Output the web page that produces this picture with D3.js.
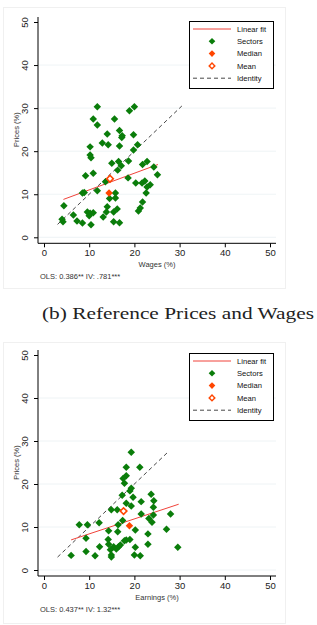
<!DOCTYPE html>
<html><head><meta charset="utf-8">
<script src="https://cdn.jsdelivr.net/npm/d3@7/dist/d3.min.js"></script>
<style>body{margin:0;background:#fff}svg{display:block}</style>
</head><body>
<svg id="c" width="317" height="625"></svg>
<script>
const axisTicks = [0, 10, 20, 30, 40, 50];
const gridTicks = [0, 10, 20, 30, 40];
const legendLabels = ["Linear fit", "Sectors", "Median", "Mean", "Identity"];
const caption = "(b) Reference Prices and Wages";

// Panel 1: wages vs prices
const wagesX = [11.8,10.9,11.8,15.6,18.9,20.0,14.0,16.7,17.3,19.8,10.2,12.9,14.2,16.7,20.7,19.8,10.2,10.4,15.0,16.5,17.1,18.7,22.8,21.8,24.3,25.1,16.3,10.9,9.2,13.6,18.6,20.3,21.7,22.3,22.8,23.5,22.6,11.8,8.5,8.9,15.8,15.8,14.5,21.8,21.3,20.9,16.2,14.0,13.8,13.1,15.4,15.4,16.7,9.6,10.2,10.9,10.0,10.4,8.5,7.3,6.5,4.4,4.2,4.0,17.2];
const wagesY = [30.3,27.5,26.1,27.5,29.4,30.3,24.0,24.8,23.6,23.8,21.0,21.9,21.5,21.2,21.5,20.3,19.1,18.5,17.2,17.6,16.6,17.7,17.6,16.9,16.3,14.5,15.6,14.9,14.3,12.9,13.8,12.6,12.6,13.1,11.7,12.2,10.3,10.8,10.3,10.4,10.3,9.1,9.0,8.2,6.8,6.1,6.6,7.1,5.9,4.7,5.9,3.6,3.4,5.9,5.6,5.7,5.0,2.9,3.3,3.8,5.2,7.3,3.6,4.2,23.2];
const wagesMedian = [14.4, 10.3];
const wagesMean = [14.6, 13.6];
const wagesFitX = [4.3, 25.2];
const wagesFitY = [8.8, 16.9];
const wagesIdentity = [3.0, 30.5];
const wagesNote = "OLS: 0.386** IV: .781***";

// Panel 2: earnings vs prices
const earnX = [18.2,17.5,17.8,19.3,19.0,17.3,19.7,23.7,24.3,21.5,18.2,19.3,24.2,14.9,16.2,21.5,23.2,23.9,12.2,9.6,7.8,17.4,16.4,14.3,16.3,20.2,14.2,19.0,18.2,17.8,23.0,14.3,23.0,9.3,12.3,15.4,16.5,16.0,16.9,14.7,14.9,14.9,20.2,20.0,21.3,9.3,11.3,6.0,24.2,28.0,27.1,29.6,19.3,18.2,21.2];
const earnY = [21.9,21.3,20.2,19.0,18.4,17.4,16.9,17.6,16.1,15.9,15.5,14.9,14.6,14.0,14.0,13.0,12.0,11.1,11.0,10.5,10.5,11.5,10.5,9.1,8.9,9.3,7.1,7.1,7.0,6.8,8.4,6.0,6.0,7.4,5.4,5.4,5.4,4.9,5.8,4.7,3.5,3.0,5.3,3.5,3.3,4.3,3.3,3.4,12.8,13.0,9.5,5.3,27.4,23.9,23.9];
const earnMedian = [18.9, 10.3];
const earnMean = [17.6, 13.7];
const earnFitX = [6.0, 29.8];
const earnFitY = [7.0, 15.3];
const earnIdentity = [3.0, 27.3];
const earnNote = "OLS: 0.437** IV: 1.32***";

const GREEN = "#0a7d0a", ORANGE = "#ff4500", RED = "#f0433a";
const svg = d3.select("#c");
const FONT = "'Liberation Sans', Arial, sans-serif";

function panel(cfg) {
  const x = d3.scaleLinear().domain([0, 50]).range([44, 270]);
  const y = d3.scaleLinear().domain([0, 50]).range([cfg.y0, cfg.y50]);
  const g = svg.append("g");
  g.append("rect").attr("x", 3.5).attr("y", cfg.boxTop + 0.5).attr("width", 282).attr("height", cfg.boxH)
    .attr("fill", "none").attr("stroke", "#f0f0f0");
  g.selectAll(".grid").data(gridTicks).join("line")
    .attr("x1", 39).attr("x2", 276).attr("y1", d => y(d)).attr("y2", d => y(d))
    .attr("stroke", "#eaf0f2").attr("stroke-width", 0.8);
  const axisY = cfg.y0 + 6;
  const xa = g.append("g").attr("transform", `translate(0,${axisY})`)
    .call(d3.axisBottom(x).tickValues(axisTicks).tickSize(4).tickPadding(2).tickSizeOuter(0));
  xa.select(".domain").attr("d", `M38,0H276`).attr("stroke", "#000");
  xa.selectAll("text").attr("font-size", 9.5).attr("font-family", FONT).attr("fill", "#222");
  const ya = g.append("g").attr("transform", `translate(38,0)`)
    .call(d3.axisLeft(y).tickValues(axisTicks).tickSize(4).tickSizeOuter(0));
  ya.select(".domain").attr("d", `M0,${cfg.y50 - 5}V${axisY}`).attr("stroke", "#000");
  ya.selectAll("text").attr("font-size", 9.5).attr("font-family", FONT).attr("fill", "#222")
    .attr("text-anchor", "middle").attr("x", 0).attr("dy", 0)
    .attr("transform", "translate(-10,0) rotate(-90)");
  g.append("text").attr("transform", `translate(19,${(cfg.y0 + cfg.y50) / 2}) rotate(-90)`)
    .attr("text-anchor", "middle").attr("font-size", 7.5).attr("font-family", FONT).attr("fill", "#333").text("Prices (%)");
  g.append("text").attr("x", x(25)).attr("y", axisY + 24).attr("text-anchor", "middle")
    .attr("font-size", 7.5).attr("font-family", FONT).attr("fill", "#333").text(cfg.xTitle);
  g.append("text").attr("x", 40).attr("y", axisY + 36).attr("font-size", 7.5)
    .attr("font-family", FONT).attr("fill", "#333").text(cfg.note);
  g.append("line").attr("x1", x(cfg.ident[0])).attr("y1", y(cfg.ident[0]))
    .attr("x2", x(cfg.ident[1])).attr("y2", y(cfg.ident[1]))
    .attr("stroke", "#333").attr("stroke-width", 0.9).attr("stroke-dasharray", "4,3");
  g.append("line").attr("x1", x(cfg.fitX[0])).attr("y1", y(cfg.fitY[0]))
    .attr("x2", x(cfg.fitX[1])).attr("y2", y(cfg.fitY[1]))
    .attr("stroke", RED).attr("stroke-width", 1);
  const sym = d3.symbol(d3.symbolSquare, 28);
  const pts = cfg.xs.map((v, i) => [v, cfg.ys[i]]);
  g.selectAll(".pt").data(pts).join("path")
    .attr("d", sym).attr("fill", GREEN)
    .attr("transform", d => `translate(${x(d[0])},${y(d[1])}) rotate(45)`);
  g.append("path").attr("d", sym).attr("fill", ORANGE)
    .attr("transform", `translate(${x(cfg.median[0])},${y(cfg.median[1])}) rotate(45)`);
  g.append("path").attr("d", d3.symbol(d3.symbolSquare, 22)).attr("fill", "#fff").attr("stroke", ORANGE).attr("stroke-width", 1.6)
    .attr("transform", `translate(${x(cfg.mean[0])},${y(cfg.mean[1])}) rotate(45)`);
  const lg = g.append("g").attr("transform", `translate(189,${cfg.legTop})`);
  lg.append("rect").attr("x", 0.5).attr("y", 0.5).attr("width", 84).attr("height", 67)
    .attr("fill", "#fff").attr("stroke", "#000").attr("stroke-width", 1);
  const rows = legendLabels.map((t, i) => ({ t, i, yy: 8 + i * 12.3 }));
  lg.selectAll(".lt").data(rows).join("text").attr("x", 48).attr("y", d => d.yy + 2.8)
    .attr("font-size", 7.6).attr("font-family", FONT).attr("fill", "#111").text(d => d.t);
  lg.append("line").attr("x1", 4).attr("x2", 42).attr("y1", rows[0].yy).attr("y2", rows[0].yy).attr("stroke", RED).attr("stroke-width", 1);
  lg.append("path").attr("d", d3.symbol(d3.symbolSquare, 22)).attr("fill", GREEN).attr("transform", `translate(23,${rows[1].yy}) rotate(45)`);
  lg.append("path").attr("d", d3.symbol(d3.symbolSquare, 22)).attr("fill", ORANGE).attr("transform", `translate(23,${rows[2].yy}) rotate(45)`);
  lg.append("path").attr("d", d3.symbol(d3.symbolSquare, 16)).attr("fill", "#fff").attr("stroke", ORANGE).attr("stroke-width", 1.4).attr("transform", `translate(23,${rows[3].yy}) rotate(45)`);
  lg.append("line").attr("x1", 4).attr("x2", 42).attr("y1", rows[4].yy).attr("y2", rows[4].yy).attr("stroke", "#333").attr("stroke-width", 0.9).attr("stroke-dasharray", "4,3");
}

panel({ y0: 237.3, y50: 22, boxTop: 7, boxH: 281, legTop: 21, xs: wagesX, ys: wagesY, median: wagesMedian, mean: wagesMean,
  fitX: wagesFitX, fitY: wagesFitY, ident: wagesIdentity, note: wagesNote, xTitle: "Wages (%)" });
panel({ y0: 570, y50: 355, boxTop: 342, boxH: 281, legTop: 353, xs: earnX, ys: earnY, median: earnMedian, mean: earnMean,
  fitX: earnFitX, fitY: earnFitY, ident: earnIdentity, note: earnNote, xTitle: "Earnings (%)" });

svg.append("text").attr("x", 42).attr("y", 319).attr("font-size", 17.5)
  .attr("font-family", "'Liberation Serif', 'DejaVu Serif', serif").attr("fill", "#222")
  .attr("textLength", 272).attr("lengthAdjust", "spacingAndGlyphs").text(caption);
</script>
</body></html>
